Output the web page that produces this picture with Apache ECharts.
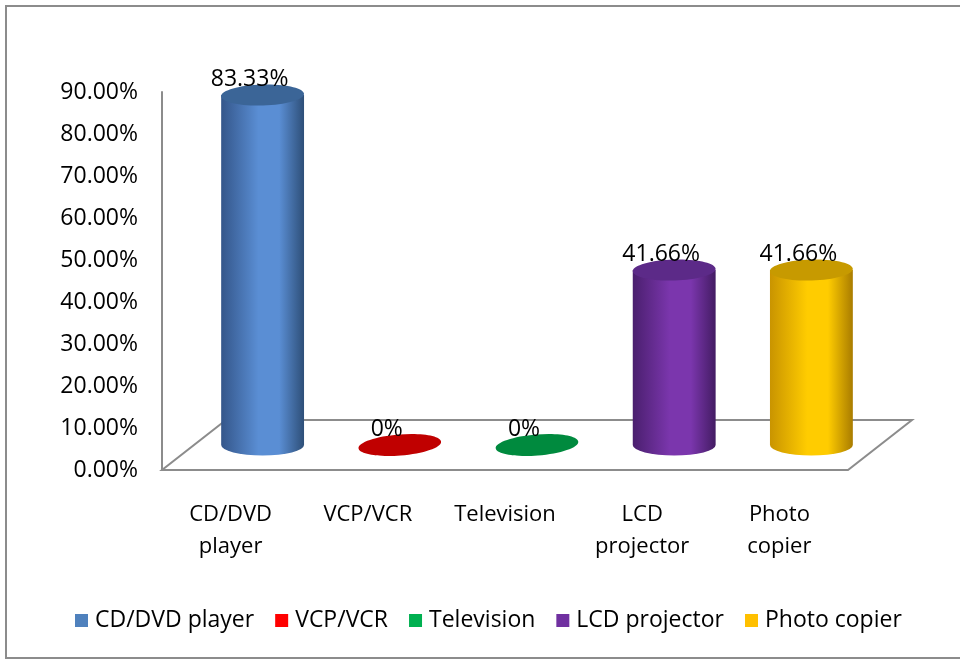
<!DOCTYPE html>
<html>
<head>
<meta charset="utf-8">
<script src="https://cdn.jsdelivr.net/npm/echarts@6/dist/echarts.min.js"></script>
<style>
html, body { margin: 0; padding: 0; background: #fff; }
#main { width: 960px; height: 661px; }
</style>
</head>
<body>
<div id="main"></div>
<script>
var categories = ['CD/DVD player', 'VCP/VCR', 'Television', 'LCD projector', 'Photo copier'];
var tickLabels = ['CD/DVD\nplayer', 'VCP/VCR', 'Television', 'LCD\nprojector', 'Photo\ncopier'];
var values = [83.33, 0, 0, 41.66, 41.66];
var valueLabels = ['83.33%', '0%', '0%', '41.66%', '41.66%'];
var legendColors = ['#4F81BD', '#FF0000', '#00B050', '#7030A0', '#FFC000'];
// left edge, light middle, right edge, top cap
var shades = [
    ['#34568a', '#5a8ed4', '#2e4f78', '#3b6597'],
    ['#c00000', '#c00000', '#c00000', '#c00000'],
    ['#008a3e', '#008a3e', '#008a3e', '#008a3e'],
    ['#4a1f6e', '#7b36ad', '#431c63', '#5c2a88'],
    ['#c99400', '#ffcc00', '#a97c00', '#c79a00']
];

var FONT = 'Open Sans';
// depth of the 3d floor in pixels
var DX = 64, DY = -50;

var chart = echarts.init(document.getElementById('main'));

function renderFloor(params, api) {
    var base = api.coord([0, 0]);
    var band = api.size([1, 0])[0];
    var x0 = base[0] - band / 2;
    var x1 = x0 + band * categories.length;
    var y = base[1];
    return {
        type: 'polygon',
        silent: true,
        shape: { points: [[x0, y], [x1, y], [x1 + DX, y + DY], [x0 + DX, y + DY]] },
        style: { fill: '#fff', stroke: '#8c8c8c', lineWidth: 2 }
    };
}

function renderCylinder(params, api) {
    var i = api.value(0);
    var base = api.coord([i, 0]);
    var top = api.coord([i, api.value(1)]);
    var band = api.size([1, 0])[0];
    var sh = shades[i];
    var cx = base[0] + DX / 2;
    var yb = base[1] + DY / 2;
    var yt = top[1] + DY / 2;
    var rx = band * 0.302;
    var ry = 10.5;
    var children = [];
    if (yb - yt > 1) {
        children.push({
            type: 'path',
            shape: {
                pathData: 'M' + (cx - rx) + ' ' + yt + ' L' + (cx - rx) + ' ' + yb +
                    ' A' + rx + ' ' + ry + ' 0 0 0 ' + (cx + rx) + ' ' + yb +
                    ' L' + (cx + rx) + ' ' + yt + ' Z'
            },
            style: {
                fill: new echarts.graphic.LinearGradient(0, 0, 1, 0, [
                    { offset: 0, color: sh[0] },
                    { offset: 0.45, color: sh[1] },
                    { offset: 0.7, color: sh[1] },
                    { offset: 1, color: sh[2] }
                ])
            }
        });
    }
    children.push({
        type: 'ellipse',
        shape: { cx: cx, cy: yt, rx: rx, ry: ry },
        rotation: yb - yt > 1 ? 0.03 : 0.08,
        originX: cx, originY: yt,
        style: { fill: sh[3] }
    });
    children.push({
        type: 'text',
        x: cx - 13,
        y: yt - ry + 6,
        style: {
            text: valueLabels[i],
            fontFamily: FONT,
            fontSize: 23,
            fill: '#000',
            align: 'center',
            verticalAlign: 'bottom'
        }
    });
    return { type: 'group', children: children };
}

var series = [{
    type: 'custom',
    name: 'floor',
    renderItem: renderFloor,
    data: [[0, 0]],
    z: 1
}];
for (var i = 0; i < categories.length; i++) {
    series.push({
        type: 'custom',
        name: categories[i],
        renderItem: renderCylinder,
        data: [[i, values[i]]],
        encode: { x: 0, y: 1 },
        itemStyle: { color: legendColors[i] },
        z: 2
    });
}

var option = {
    animation: false,
    backgroundColor: '#fff',
    textStyle: { fontFamily: FONT },
    graphic: [{
        type: 'rect',
        silent: true,
        shape: { x: 6, y: 6, width: 980, height: 652 },
        style: { fill: 'none', stroke: '#8c8c8c', lineWidth: 2 }
    }],
    legend: {
        data: categories,
        left: 70,
        top: 604,
        icon: 'rect',
        itemWidth: 13,
        itemHeight: 13,
        itemGap: 21,
        textStyle: { fontFamily: FONT, fontSize: 23, color: '#000', padding: [0, 0, 0, 2] }
    },
    grid: { left: 162, right: 112, top: 92, bottom: 191 },
    xAxis: {
        type: 'category',
        data: tickLabels,
        axisLine: { show: false },
        axisTick: { show: false },
        axisLabel: {
            interval: 0,
            margin: 29,
            fontFamily: FONT,
            fontSize: 22,
            lineHeight: 32,
            color: '#000'
        }
    },
    yAxis: {
        type: 'value',
        min: 0,
        max: 90,
        interval: 10,
        axisLine: { show: true, lineStyle: { color: '#8c8c8c', width: 2 } },
        axisTick: { show: false },
        splitLine: { show: false },
        axisLabel: {
            margin: 24,
            fontFamily: FONT,
            fontSize: 23,
            color: '#000',
            formatter: function (v) { return v.toFixed(2) + '%'; }
        }
    },
    series: series
};

chart.setOption(option);
</script>
</body>
</html>
